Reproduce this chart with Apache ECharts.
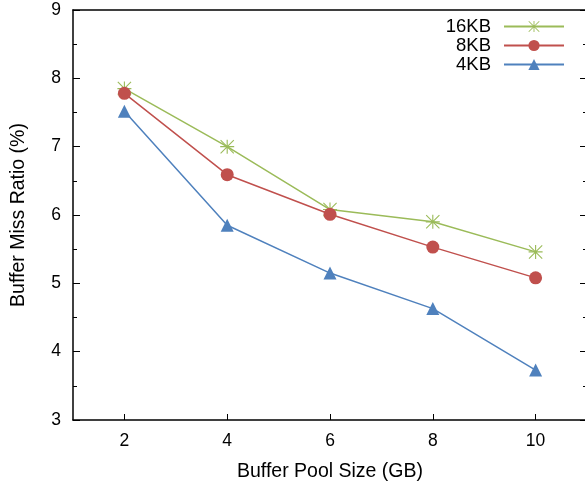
<!DOCTYPE html>
<html>
<head>
<meta charset="utf-8">
<script src="https://cdn.jsdelivr.net/npm/echarts@6/dist/echarts.min.js"></script>
<style>
  html, body { margin: 0; padding: 0; background: #fff; }
  #chart { width: 585px; height: 485px; }
</style>
</head>
<body>
<div id="chart"></div>
<script>
// data
const poolSizes = [2, 4, 6, 8, 10];
const miss16KB = [7.85, 7.00, 6.08, 5.90, 5.46];
const miss8KB = [7.78, 6.59, 6.01, 5.53, 5.08];
const miss4KB = [7.52, 5.85, 5.15, 4.63, 3.73];
const xTicks = [2, 4, 6, 8, 10];

const FONT = '"Liberation Sans", Arial, sans-serif';

// asterisk made from four thin bars (plus + cross)
const starPath = 'path://M9.2 0 L10.8 0 L10.8 20 L9.2 20 Z ' +
    'M0 9.2 L20 9.2 L20 10.8 L0 10.8 Z ' +
    'M1.1 0 L20 18.9 L18.9 20 L0 1.1 Z ' +
    'M18.9 0 L20 1.1 L1.1 20 L0 18.9 Z';

function pairs(ys) {
    return poolSizes.map(function (x, i) { return [x, ys[i]]; });
}

const chart = echarts.init(document.getElementById('chart'));

const option = {
    backgroundColor: '#fff',
    animation: false,
    grid: {
        left: 73, top: 10, right: -2, bottom: 65,
        containLabel: false,
        outerBoundsMode: 'none'
    },
    legend: {
        right: 20,
        top: 17,
        padding: 0,
        orient: 'vertical',
        align: 'right',
        itemWidth: 60,
        itemHeight: 14,
        itemGap: 0,
        textStyle: {
            fontFamily: FONT, fontSize: 18.5, color: '#000',
            lineHeight: 17, padding: [0, 8, 0, 0]
        },
        data: ['16KB', '8KB', '4KB']
    },
    xAxis: [
        {
            type: 'value',
            min: 1,
            max: 11,
            interval: 1,
            name: 'Buffer Pool Size (GB)',
            nameLocation: 'middle',
            nameGap: 42,
            nameTextStyle: { fontFamily: FONT, fontSize: 19.5, color: '#000' },
            axisLine: { show: true, lineStyle: { color: '#000', width: 1.5 } },
            axisTick: { show: true, inside: true, length: 6, customValues: xTicks, lineStyle: { color: '#000' } },
            axisLabel: { customValues: xTicks, margin: 12, fontFamily: FONT, fontSize: 17.5, color: '#000' },
            splitLine: { show: false }
        },
        {
            type: 'value',
            position: 'top',
            min: 1,
            max: 11,
            axisLine: { show: true, onZero: false, lineStyle: { color: '#000', width: 1.5 } },
            axisTick: { show: false },
            axisLabel: { show: false },
            splitLine: { show: false }
        }
    ],
    yAxis: [
        {
            type: 'value',
            min: 3,
            max: 9,
            interval: 1,
            name: 'Buffer Miss Ratio (%)',
            nameLocation: 'middle',
            nameGap: 44,
            nameTextStyle: { fontFamily: FONT, fontSize: 19.5, color: '#000' },
            axisLine: { show: true, lineStyle: { color: '#000', width: 1.5 } },
            axisTick: { show: true, inside: true, length: 7, lineStyle: { color: '#000' } },
            minorTick: { show: true, splitNumber: 2, length: 4, lineStyle: { color: '#000' } },
            axisLabel: { margin: 12, fontFamily: FONT, fontSize: 17.5, color: '#000' },
            splitLine: { show: false },
            minorSplitLine: { show: false }
        },
        {
            type: 'value',
            position: 'right',
            min: 3,
            max: 9,
            interval: 1,
            axisLine: { show: true, lineStyle: { color: '#000', width: 1.5 } },
            axisTick: { show: true, inside: true, length: 7, lineStyle: { color: '#000' } },
            minorTick: { show: true, splitNumber: 2, length: 4, lineStyle: { color: '#000' } },
            axisLabel: { show: false },
            splitLine: { show: false },
            minorSplitLine: { show: false }
        }
    ],
    series: [
        {
            name: '16KB',
            type: 'line',
            data: pairs(miss16KB),
            symbol: starPath,
            symbolSize: 14,
            showAllSymbol: true,
            color: '#9bbb59',
            lineStyle: { width: 1.5, color: '#9bbb59' },
            itemStyle: { color: '#9bbb59' }
        },
        {
            name: '8KB',
            type: 'line',
            data: pairs(miss8KB),
            symbol: 'circle',
            symbolSize: 13,
            color: '#c0504d',
            lineStyle: { width: 1.5, color: '#c0504d' },
            itemStyle: { color: '#c0504d' }
        },
        {
            name: '4KB',
            type: 'line',
            data: pairs(miss4KB),
            symbol: 'triangle',
            symbolSize: 13,
            color: '#4f81bd',
            lineStyle: { width: 1.5, color: '#4f81bd' },
            itemStyle: { color: '#4f81bd' }
        }
    ]
};

chart.setOption(option);
</script>
</body>
</html>
